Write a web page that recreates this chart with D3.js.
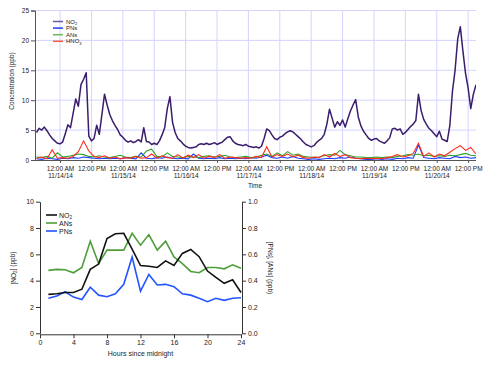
<!DOCTYPE html>
<html>
<head>
<meta charset="utf-8">
<script src="https://cdn.jsdelivr.net/npm/d3@7"></script>
<style>
  body { margin: 0; background: #fff; }
  text { font-family: "Liberation Sans", Arial, sans-serif; fill: #222; }
</style>
</head>
<body>
<div id="chart-area"></div>
<script>
// ---- top panel data (time series from 11/13/14 15:00) ----
var seriesStart = new Date(2014, 10, 13, 15);
// NO2, one value per hour
var no2Hourly = [
  4.6,5.3,5.0,5.5,4.9,4.2,3.6,3.2,2.8,
  2.7,3.0,4.4,5.9,5.4,7.8,10.2,9.0,12.6,13.5,14.6,4.0,
  3.2,3.6,5.8,4.3,7.6,11.0,9.2,7.6,6.6,5.8,5.1,4.2,
  3.8,3.3,3.0,3.2,2.9,3.1,3.4,3.0,5.4,3.1,3.0,2.6,
  2.8,2.6,3.2,4.2,5.4,8.6,10.6,6.3,4.6,3.6,3.2,2.7,
  2.3,2.1,2.0,2.1,2.2,2.6,2.7,2.6,2.8,2.6,2.7,2.9,
  2.6,2.8,3.0,3.4,3.8,3.9,3.2,2.8,2.6,2.5,2.4,2.6,
  2.3,2.2,2.1,2.2,2.0,2.3,3.6,5.2,4.9,4.2,3.6,3.4,
  3.8,4.0,4.4,4.7,4.9,4.7,4.3,3.9,3.5,3.0,2.6,2.4,
  2.2,2.4,2.9,3.3,3.6,4.3,6.0,8.5,7.0,5.5,6.4,5.8,
  6.7,5.5,6.9,8.2,9.2,10.1,7.2,5.7,4.8,4.2,3.6,3.3,
  3.5,3.6,3.2,3.0,2.8,3.2,3.7,5.2,5.3,5.0,5.2,4.3,
  4.6,5.1,5.6,6.0,6.6,11.0,8.3,6.8,6.0,5.3,4.9,4.4,
  3.9,4.8,3.5,3.3,3.1,5.8,11.5,15.0,20.2,22.3,18.2,14.5,
  12.0,8.6,11.0,12.6
];
// PNs, ANs, HNO3, one value every two hours
var pnsTwoHourly = [
  0.2,0.1,0.3,0.2,0.1,0.3,0.2,0.4,0.3,0.5,0.4,0.3,
  0.2,0.3,0.2,0.3,0.2,0.4,0.3,0.2,1.2,0.3,0.2,0.4,
  0.3,0.5,0.3,0.2,0.3,0.2,1.0,0.3,0.2,0.3,0.2,0.4,
  0.2,0.3,0.2,0.3,0.2,0.4,0.3,0.5,0.8,0.4,0.3,0.5,
  0.3,0.6,0.3,0.2,0.1,0.2,0.1,0.2,0.3,0.2,0.4,0.3,
  0.5,0.3,0.2,0.1,0.1,0.2,0.1,0.2,0.1,0.3,0.2,0.4,
  0.3,2.5,0.4,0.3,0.2,0.4,0.3,0.2,0.6,0.4,0.5,0.3,
  0.4
];
var ansTwoHourly = [
  0.5,0.4,0.6,0.3,1.2,0.5,0.6,0.8,1.0,0.9,0.6,0.5,
  0.7,0.5,0.4,0.6,0.8,0.5,0.4,0.6,0.5,1.5,1.8,0.6,
  0.5,1.2,0.6,0.5,0.4,0.6,0.5,0.4,0.6,0.7,0.5,0.6,
  0.8,0.5,0.4,0.5,0.6,0.4,0.5,0.8,1.0,0.6,1.2,0.7,
  1.4,0.8,1.0,0.6,0.5,0.4,0.5,0.7,0.9,0.8,1.6,0.9,
  0.7,0.5,0.5,0.4,0.4,0.5,0.4,0.5,0.4,0.6,0.7,0.9,
  0.8,1.0,0.7,0.8,0.6,0.7,0.6,0.8,0.7,0.9,1.1,0.8,
  0.7
];
var hno3TwoHourly = [
  0.3,0.5,0.2,1.7,0.3,0.4,0.3,0.6,1.4,3.2,1.5,0.6,
  0.4,0.7,0.3,0.5,0.2,0.4,0.3,0.6,0.3,0.4,1.0,0.3,
  0.7,0.4,0.3,0.9,0.3,0.8,0.4,0.9,0.3,0.6,0.4,0.9,
  0.3,0.5,0.4,0.3,0.4,0.3,0.6,0.4,2.2,0.5,0.9,0.6,
  1.0,0.5,0.8,0.4,0.3,0.5,0.4,0.9,0.5,1.1,0.6,0.9,
  0.4,0.3,0.2,0.3,0.2,0.3,0.2,0.4,0.6,0.9,0.5,0.7,
  1.1,2.8,0.6,1.2,0.5,1.0,0.7,1.3,1.9,2.4,1.6,2.1,
  1.0
];
var concTicks = [0, 5, 10, 15, 20, 25];

// ---- bottom panel data (diurnal averages) ----
var hours = d3.range(1, 25);
var no2Diurnal = [2.96,3.0,3.1,3.1,3.35,4.86,5.26,7.2,7.56,7.6,6.4,5.15,
                  5.1,5.0,5.5,5.15,6.07,6.37,5.82,4.73,4.25,3.8,4.07,3.1];
var ansDiurnal = [0.478,0.486,0.483,0.46,0.50,0.70,0.53,0.632,0.632,0.632,0.76,0.67,
                  0.75,0.632,0.70,0.58,0.53,0.47,0.46,0.50,0.50,0.49,0.52,0.494];
var pnsDiurnal = [0.266,0.283,0.316,0.275,0.257,0.35,0.29,0.278,0.30,0.372,0.58,0.32,
                  0.447,0.367,0.372,0.354,0.30,0.29,0.266,0.24,0.266,0.25,0.266,0.27];
var hourTicks = [0, 4, 8, 12, 16, 20, 24];
var no2Ticks = [0, 2, 4, 6, 8, 10];
var nitrateTicks = [0, 0.2, 0.4, 0.6, 0.8, 1.0];

var svg = d3.select("#chart-area")
  .append("svg")
    .attr("width", 500)
    .attr("height", 365);

function addHours(h) { return d3.timeHour.offset(seriesStart, h); }

function subLabel(sel, before, sub, after) {
  sel.append("tspan").text(before);
  sel.append("tspan").attr("font-size", "0.7em").attr("dy", "0.3em").text(sub);
  sel.append("tspan").attr("dy", "-0.3em").text(after);
}

// ================= top panel =================
var box1 = { left: 35, right: 476, top: 10, bottom: 160 };

var x = d3.scaleTime()
  .domain([seriesStart, addHours(168)])
  .range([box1.left + 1.5, box1.right]);
var y = d3.scaleLinear()
  .domain([0, 25])
  .range([box1.bottom, box1.top + 0.5]);

var timeTicks = d3.timeHour.range(new Date(2014, 10, 14, 0), new Date(2014, 10, 20, 13), 12);

var g1 = svg.append("g");

// grid
g1.selectAll(".vgrid").data(timeTicks).enter().append("line")
  .attr("x1", d => x(d)).attr("x2", d => x(d))
  .attr("y1", box1.top).attr("y2", box1.bottom)
  .attr("stroke", "#d4d4ff").attr("stroke-width", 1);
g1.selectAll(".hgrid").data(concTicks.slice(1)).enter().append("line")
  .attr("x1", box1.left).attr("x2", box1.right)
  .attr("y1", d => y(d)).attr("y2", d => y(d))
  .attr("stroke", "#d4d4ff").attr("stroke-width", 1);

g1.append("clipPath").attr("id", "clipTop")
  .append("rect").attr("x", box1.left).attr("y", box1.top)
  .attr("width", box1.right - box1.left).attr("height", box1.bottom - box1.top);

var plot1 = g1.append("g").attr("clip-path", "url(#clipTop)");

function twoHourLine(values, color) {
  var line = d3.line()
    .x((d, i) => x(addHours(2 * i)))
    .y(d => y(d));
  plot1.append("path").datum(values)
    .attr("fill", "none").attr("stroke", color)
    .attr("stroke-width", 1.1).attr("d", line);
}
twoHourLine(pnsTwoHourly, "#1f3cff");
twoHourLine(ansTwoHourly, "#33a02c");
twoHourLine(hno3TwoHourly, "#ff2a1a");

var no2Line = d3.line()
  .x((d, i) => x(addHours(i)))
  .y(d => y(d));
plot1.append("path").datum(no2Hourly)
  .attr("fill", "none").attr("stroke", "#3a1d6b")
  .attr("stroke-width", 1.5).attr("stroke-linejoin", "round")
  .attr("d", no2Line);

// axes
var yAxis1 = g1.append("g")
  .attr("transform", "translate(" + box1.left + ",0)")
  .call(d3.axisLeft(y).tickValues(concTicks).tickSize(4).tickPadding(2));
var xAxis1 = g1.append("g")
  .attr("transform", "translate(0," + box1.bottom + ")")
  .call(d3.axisBottom(x).tickValues(timeTicks).tickSize(3).tickPadding(3)
    .tickFormat(d => d.getHours() === 0 ? "12:00 AM" : "12:00 PM"));
xAxis1.select(".domain").attr("d", "M" + box1.left + ",0.5H" + box1.right);

xAxis1.selectAll(".tick text").each(function(d) {
  if (d.getHours() === 0) {
    d3.select(this).append("tspan")
      .attr("x", 0).attr("dy", "1.15em")
      .text(d3.timeFormat("%m/%d/%y")(d));
  }
});

[yAxis1, xAxis1].forEach(function(a) {
  a.selectAll(".domain").attr("stroke", "#555");
  a.selectAll(".tick line").attr("stroke", "#555");
  a.selectAll("text").attr("font-size", "6.5px").attr("fill", "#222");
});

g1.append("text")
  .attr("transform", "translate(14," + ((box1.top + box1.bottom) / 2 - 4) + ") rotate(-90)")
  .attr("text-anchor", "middle").attr("font-size", "6.5px")
  .text("Concentration (ppb)");
g1.append("text")
  .attr("x", 255).attr("y", 188)
  .attr("text-anchor", "middle").attr("font-size", "6.5px")
  .text("Time");

// legend
var legendTop = [
  { name: ["NO", "2", ""], color: "#6b5aa8" },
  { name: ["PNs"], color: "#1f3cff" },
  { name: ["ANs"], color: "#66bb55" },
  { name: ["HNO", "3", ""], color: "#ff5a4a" }
];
legendTop.forEach(function(d, i) {
  var ly = 21.5 + i * 6.6;
  g1.append("line")
    .attr("x1", 53).attr("x2", 63).attr("y1", ly).attr("y2", ly)
    .attr("stroke", d.color).attr("stroke-width", 1.5);
  var t = g1.append("text").attr("x", 66).attr("y", ly + 2).attr("font-size", "6px");
  if (d.name.length > 1) subLabel(t, d.name[0], d.name[1], d.name[2]);
  else t.text(d.name[0]);
});

// ================= bottom panel =================
var box2 = { left: 40, right: 241, axisRight: 242, top: 201.7, bottom: 333.3 };

var xh = d3.scaleLinear().domain([0, 24]).range([box2.left, box2.right]);
var yl = d3.scaleLinear().domain([0, 10]).range([box2.bottom, box2.top]);
var yr = d3.scaleLinear().domain([0, 1]).range([box2.bottom, box2.top]);

var g2 = svg.append("g");

var xAxis2 = g2.append("g")
  .attr("transform", "translate(0," + (box2.bottom + 1) + ")")
  .call(d3.axisBottom(xh).tickValues(hourTicks).tickSize(4).tickPadding(2).tickSizeOuter(0));
var yAxisL = g2.append("g")
  .attr("transform", "translate(" + box2.left + ",0)")
  .call(d3.axisLeft(yl).tickValues(no2Ticks).tickSize(4).tickPadding(2).tickSizeOuter(0));
var yAxisR = g2.append("g")
  .attr("transform", "translate(" + box2.axisRight + ",0)")
  .call(d3.axisRight(yr).tickValues(nitrateTicks).tickSize(4).tickPadding(2).tickSizeOuter(0)
    .tickFormat(d3.format(".1f")));

[xAxis2, yAxisL, yAxisR].forEach(function(a) {
  a.selectAll(".domain").attr("stroke", "#333");
  a.selectAll(".tick line").attr("stroke", "#333");
  a.selectAll("text").attr("font-size", "7px").attr("fill", "#222");
});

function diurnal(values, scale, color) {
  var line = d3.line()
    .x((d, i) => xh(hours[i]))
    .y(d => scale(d));
  g2.append("path").datum(values)
    .attr("fill", "none").attr("stroke", color)
    .attr("stroke-width", 1.6).attr("d", line);
}
diurnal(ansDiurnal, yr, "#4e9e3a");
diurnal(pnsDiurnal, yr, "#2255ff");
diurnal(no2Diurnal, yl, "#111");

g2.append("text")
  .attr("x", (box2.left + box2.right) / 2).attr("y", 356)
  .attr("text-anchor", "middle").attr("font-size", "7px")
  .text("Hours since midnight");

var lblL = g2.append("text")
  .attr("transform", "translate(16," + 268 + ") rotate(-90)")
  .attr("text-anchor", "middle").attr("font-size", "6.5px");
subLabel(lblL, "[NO", "2", "] (ppb)");

g2.append("text")
  .attr("transform", "translate(268," + 268 + ") rotate(90)")
  .attr("text-anchor", "middle").attr("font-size", "6.5px")
  .text("[PNs], [ANs] (ppb)");

var legendBot = [
  { name: ["NO", "2", ""], color: "#111" },
  { name: ["ANs"], color: "#4e9e3a" },
  { name: ["PNs"], color: "#2255ff" }
];
legendBot.forEach(function(d, i) {
  var ly = 215 + i * 8;
  g2.append("line")
    .attr("x1", 46).attr("x2", 57).attr("y1", ly).attr("y2", ly)
    .attr("stroke", d.color).attr("stroke-width", 1.6);
  var t = g2.append("text").attr("x", 59).attr("y", ly + 2.5).attr("font-size", "7px");
  if (d.name.length > 1) subLabel(t, d.name[0], d.name[1], d.name[2]);
  else t.text(d.name[0]);
});
</script>
</body>
</html>
